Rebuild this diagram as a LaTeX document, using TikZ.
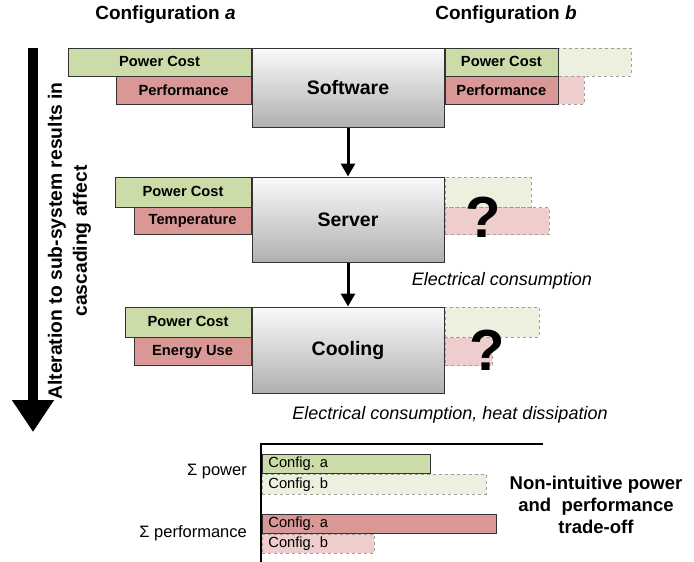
\documentclass[tikz,border=0pt]{standalone}
\usepackage{fontspec}
\setmainfont{Liberation Sans}
\usetikzlibrary{positioning,arrows.meta}

\definecolor{costgreen}{HTML}{CCDCA8}
\definecolor{perfred}{HTML}{D99795}
\definecolor{costpale}{HTML}{EBF0DF}
\definecolor{perfpale}{HTML}{EECDCC}
\newcommand{\figfont}[2]{\fontsize{#1}{#2}\selectfont}
\frenchspacing

\begin{document}
\begin{tikzpicture}[x=1pt,y=-1pt,>={Triangle[width=14pt,length=13pt]},
  sys node/.style={rectangle,draw=black!80,line width=1pt,top color=gray!4,bottom color=gray!62,font=\figfont{19.5}{20}\bfseries,minimum width=192pt,inner sep=0pt},
  cost node/.style={rectangle,draw=black!80,line width=0.8pt,fill=costgreen,font=\figfont{14.7}{15}\bfseries,inner sep=0pt},
  perf node/.style={cost node,fill=perfred},
  cost ghost/.style={rectangle,draw=gray!75,dashed,line width=0.8pt,fill=costpale,inner sep=0pt},
  perf ghost/.style={cost ghost,fill=perfpale},
  chart bar/.style={inner xsep=6pt,inner ysep=0pt,align=left,anchor=north west,font=\figfont{14.7}{15}},
  note/.style={font=\figfont{18}{18}\itshape},
  qmark/.style={font=\figfont{58}{58}\bfseries}]

  \useasboundingbox (0,0) rectangle (694,562);

  % headings
  \node[font=\figfont{19}{20}\bfseries] (cfgA) at (165.5,15) {Configuration \textit{a}};
  \node[font=\figfont{19}{20}\bfseries] (cfgB) at (506,15) {Configuration \textit{b}};

  % sub-systems
  \node[sys node,minimum height=79pt] (soft) at (348,87.5) {Software};
  \node[sys node,minimum height=85pt] (srv) at (348,219.5) {Server};
  \node[sys node,minimum height=86pt] (cool) at (348,350) {Cooling};

  % configuration a
  \node[cost node,minimum width=183pt,minimum height=28pt,anchor=north east] (softCostA) at (soft.north west) {Power Cost};
  \node[perf node,minimum width=135pt,minimum height=28pt,anchor=north east] (softPerfA) at (softCostA.south east) {Performance};
  \node[cost node,minimum width=136pt,minimum height=30pt,anchor=north east] (srvCostA) at (srv.north west) {Power Cost};
  \node[perf node,minimum width=117pt,minimum height=27pt,anchor=north east] (srvTempA) at (srvCostA.south east) {Temperature};
  \node[cost node,minimum width=126pt,minimum height=30pt,anchor=north east] (coolCostA) at (cool.north west) {Power Cost};
  \node[perf node,minimum width=117pt,minimum height=28pt,anchor=north east] (coolEnA) at (coolCostA.south east) {Energy Use};

  % configuration b
  \node[cost ghost,minimum width=75pt,minimum height=28pt,anchor=north west] (softCostX) at (556,48) {};
  \node[perf ghost,minimum width=28pt,minimum height=28pt,anchor=north west] (softPerfX) at (556,76) {};
  \node[cost node,minimum width=113pt,minimum height=28pt,anchor=north west] (softCostB) at (soft.north east) {Power Cost};
  \node[perf node,minimum width=113pt,minimum height=28pt,anchor=north west] (softPerfB) at (softCostB.south west) {Performance};
  \node[cost ghost,minimum width=86pt,minimum height=30pt,anchor=north west] (srvCostB) at (srv.north east) {};
  \node[perf ghost,minimum width=104pt,minimum height=27pt,anchor=north west] (srvTempB) at (srvCostB.south west) {};
  \node[cost ghost,minimum width=94pt,minimum height=30pt,anchor=north west] (coolCostB) at (cool.north east) {};
  \node[perf ghost,minimum width=47pt,minimum height=28pt,anchor=north west] (coolEnB) at (coolCostB.south west) {};
  \node[qmark] (srvQ) at (483,217) {?};
  \node[qmark] (coolQ) at (487,350) {?};

  \draw[->,line width=3pt] (soft.south) -- (srv.north);
  \draw[->,line width=3pt] (srv.south) -- (cool.north);
  \node[note] (srvNote) at (502,281) {Electrical consumption};
  \node[note] (coolNote) at (450,415) {Electrical consumption, heat dissipation};

  % cascading arrow
  \coordinate (cascTop) at (33,48);
  \coordinate (cascEnd) at (33,432);
  \draw[line width=10pt,-{Triangle[width=40pt,length=32pt]}] (cascTop) -- (cascEnd);
  \node[rotate=90,align=center,font=\figfont{19.3}{25}\bfseries] (cascText) at (69.5,241) {Alteration to sub-system results in\\cascading affect};

  % totals
  \coordinate (axO) at (261,444);
  \coordinate (axB) at (261,562);
  \coordinate (axR) at (543,444);
  \draw[line width=1.2pt] (axB) -- (axO) -- (axR);
  \node[chart bar,draw=black!80,line width=0.8pt,fill=costgreen,text width=156pt,minimum height=19pt] (powA) at (262,454) {Config. a};
  \node[chart bar,draw=gray!75,dashed,line width=0.8pt,fill=costpale,text width=212pt,minimum height=20pt] (powB) at (powA.south west) {Config. b};
  \node[chart bar,draw=black!80,line width=0.8pt,fill=perfred,text width=222pt,minimum height=19pt] (perfA) at (262,514) {Config. a};
  \node[chart bar,draw=gray!75,dashed,line width=0.8pt,fill=perfpale,text width=100pt,minimum height=19pt] (perfB) at (perfA.south west) {Config. b};
  \node[anchor=east,inner sep=0pt,font=\figfont{16.5}{17}] (sumPow) at (247,472) {Σ power};
  \node[anchor=east,inner sep=0pt,font=\figfont{16.5}{17}] (sumPerf) at (247,533) {Σ performance};
  \node[align=center,font=\figfont{18.5}{22}\bfseries] (tradeoff) at (596,505) {Non-intuitive power\\and~~performance\\trade-off};
\end{tikzpicture}
\end{document}
